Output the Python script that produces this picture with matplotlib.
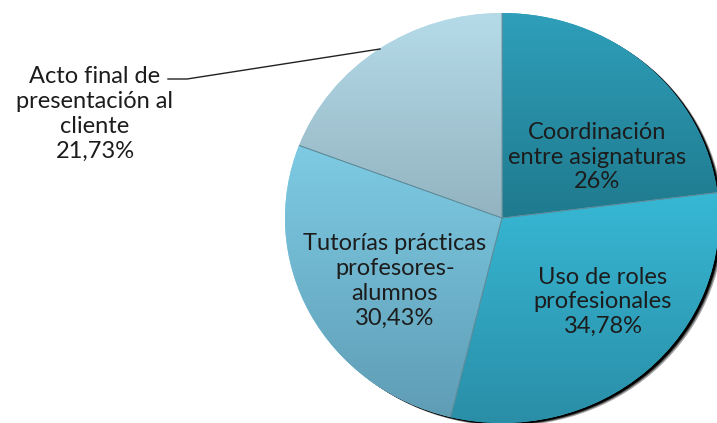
import numpy as np
import matplotlib
matplotlib.use("Agg")
import matplotlib.pyplot as plt
from matplotlib.colors import LinearSegmentedColormap
from matplotlib.patches import Ellipse

# ---- data ----
categories = ["Coordinación\nentre asignaturas",
              "Uso de roles\nprofesionales",
              "Tutorías prácticas\nprofesores-\nalumnos",
              "Acto final de\npresentación al\ncliente"]
values = [26, 34.78, 30.43, 21.73]

# ---- style ----
grad_top = ["#2f9fba", "#37b8d5", "#7ecbe4", "#b5dbe9"]
grad_bot = ["#1f7a8e", "#2a8ea7", "#5f9db5", "#93b3c0"]

W, H = 717, 423
cx_px, cy_px = 502, 218      # pie centre in pixels (from top-left)
rx_px, ry_px = 217, 205      # pie radii in pixels

fig = plt.figure(figsize=(W / 100, H / 100), dpi=100)
ax = fig.add_axes([0, 0, 1, 1])

def set_limits():
    ax.set_xlim(-cx_px / rx_px, (W - cx_px) / rx_px)
    ax.set_ylim(-(H - cy_px) / ry_px, cy_px / ry_px)
    ax.set_aspect("auto")
    ax.axis("off")

def px(x, y):
    """pixel (from top-left) -> data coords"""
    return (x - cx_px) / rx_px, (cy_px - y) / ry_px

wedges, _ = ax.pie(values, startangle=90, counterclock=False, radius=1.0,
                   colors=grad_top,
                   wedgeprops=dict(edgecolor="none", linewidth=0),
                   normalize=True)
set_limits()

# soft shadow
for k, a in [(1.0, 0.35), (0.7, 0.5), (0.45, 1.0)]:
    ax.add_patch(Ellipse((0.018 * k + 0.003, -0.013 * k - 0.002), 2.0, 2.0,
                         facecolor="black", edgecolor="none", alpha=a, zorder=0))

for w in wedges:
    w.set_zorder(1)

# gradients clipped to wedges
for w, ct, cb in zip(wedges, grad_top, grad_bot):
    t1, t2 = np.deg2rad(w.theta1), np.deg2rad(w.theta2)
    ang = np.linspace(t1, t2, 200)
    xs = np.concatenate([[0], np.cos(ang)])
    ys = np.concatenate([[0], np.sin(ang)])
    cmap = LinearSegmentedColormap.from_list("g", [cb, ct])
    grad = np.linspace(0, 1, 256).reshape(-1, 1)
    im = ax.imshow(grad, cmap=cmap, origin="lower", aspect="auto",
                   extent=(xs.min(), xs.max(), ys.min(), ys.max()),
                   zorder=2, interpolation="bilinear")
    im.set_clip_path(w)
    # radial separator lines
    for t in (t1, t2):
        ax.plot([0, np.cos(t)], [0, np.sin(t)], color="#5f8d9c",
                linewidth=0.6, zorder=3, solid_capstyle="butt")

set_limits()

def fmt(v):
    return f"{v:g}".replace(".", ",") + "%"

label_px = [(597, 157), (603, 302), (395, 281), (95, 114)]
font = dict(family=["Lato", "DejaVu Sans"], fontsize=17, color="#1c1c1c",
            ha="center", va="center", linespacing=1.22, zorder=5)
for cat, v, (x, y) in zip(categories, values, label_px):
    tx, ty = px(x, y)
    ax.text(tx, ty, cat + "\n" + fmt(v), **font)

# leader line for the outside label
lx, ly = zip(px(168, 79), px(187, 79), px(380, 49))
ax.plot(lx, ly, color="#222222", linewidth=1.0, zorder=5)

fig.savefig("out.png", dpi=100)
